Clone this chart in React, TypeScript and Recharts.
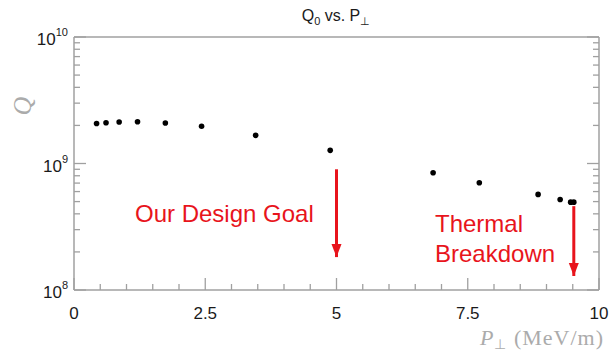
import React from 'react'
import { ScatterChart, Scatter, XAxis, YAxis, ReferenceLine } from 'recharts'

const pPerp = [0.43, 0.61, 0.86, 1.21, 1.74, 2.43, 3.46, 4.88, 6.84, 7.72, 8.84, 9.26, 9.46, 9.52]
const q0 = [2.07e9, 2.1e9, 2.13e9, 2.14e9, 2.09e9, 1.97e9, 1.67e9, 1.27e9, 8.45e8, 7.05e8, 5.7e8, 5.2e8, 4.95e8, 4.95e8]

// annotation arrows (x position, start Q, tip Q)
const arrowX = [5, 9.52]
const arrowFrom = [9.0e8, 4.6e8]
const arrowTo = [1.82e8, 1.29e8]

const xTicks = [0, 0.5, 1, 1.5, 2, 2.5, 3, 3.5, 4, 4.5, 5, 5.5, 6, 6.5, 7, 7.5, 8, 8.5, 9, 9.5, 10]
const xMajor = [0, 2.5, 5, 7.5, 10]
const yTicks = [
  1e8, 2e8, 3e8, 4e8, 5e8, 6e8, 7e8, 8e8, 9e8,
  1e9, 2e9, 3e9, 4e9, 5e9, 6e9, 7e9, 8e9, 9e9, 1e10,
]
const yMajor = [1e8, 1e9, 1e10]

const points = pPerp.map((x, i) => ({ x, y: q0[i] }))
const tips = arrowX.map((x, i) => ({ x, y: arrowTo[i] }))

const FRAME = '#a0a0a0'
const RED = '#e8141c'
const SANS = '"Liberation Sans", Arial, sans-serif'
const SERIF = '"Liberation Serif", "Times New Roman", serif'

const isMajorX = (v: number) => xMajor.includes(v)
const isMajorY = (v: number) => yMajor.some((m) => Math.abs(m - v) < 1)

const BottomTick = ({ x, y, payload }: any) => {
  const major = isMajorX(payload.value)
  return (
    <g>
      <line x1={x} x2={x} y1={y} y2={y - (major ? 12 : 6)} stroke={FRAME} strokeWidth={1.3} />
      {major && (
        <text x={x} y={y + 29} textAnchor="middle" fontFamily={SANS} fontSize={17} fill="#1a1a1a">
          {payload.value}
        </text>
      )}
    </g>
  )
}

const TopTick = ({ x, y, payload }: any) => {
  const major = isMajorX(payload.value)
  return <line x1={x} x2={x} y1={y} y2={y + (major ? 12 : 6)} stroke={FRAME} strokeWidth={1.3} />
}

const LeftTick = ({ x, y, payload }: any) => {
  const major = isMajorY(payload.value)
  const exp = Math.round(Math.log10(payload.value))
  return (
    <g>
      <line x1={x} x2={x + (major ? 12 : 6)} y1={y} y2={y} stroke={FRAME} strokeWidth={1.3} />
      {major && (
        <text x={x - 6} y={y + 8} textAnchor="end" fontFamily={SANS} fontSize={17} fill="#1a1a1a">
          10
          <tspan fontSize={11} dy={-9}>{exp}</tspan>
        </text>
      )}
    </g>
  )
}

const RightTick = ({ x, y, payload }: any) => {
  const major = isMajorY(payload.value)
  return <line x1={x} x2={x - (major ? 12 : 6)} y1={y} y2={y} stroke={FRAME} strokeWidth={1.3} />
}

const Dot = ({ cx, cy }: any) => <circle cx={cx} cy={cy} r={2.8} fill="#000" />

const ArrowHead = ({ cx, cy }: any) => (
  <polygon points={`${cx - 5},${cy - 13} ${cx + 5},${cy - 13} ${cx},${cy}`} fill={RED} />
)

export default function App() {
  return (
    <div style={{ position: 'absolute', left: 0, top: 0, width: 612, height: 354, background: '#fff' }}>
      <ScatterChart width={612} height={354} margin={{ top: 0, right: 0, bottom: 0, left: 0 }}>
        <XAxis
          xAxisId="b"
          dataKey="x"
          type="number"
          domain={[0, 10]}
          ticks={xTicks}
          interval={0}
          height={64}
          tickSize={0}
          tickMargin={0}
          tickLine={false}
          axisLine={{ stroke: FRAME, strokeWidth: 1.5 }}
          tick={<BottomTick />}
        />
        <XAxis
          xAxisId="t"
          orientation="top"
          type="number"
          domain={[0, 10]}
          ticks={xTicks}
          interval={0}
          height={37}
          tickSize={0}
          tickMargin={0}
          tickLine={false}
          axisLine={{ stroke: FRAME, strokeWidth: 1.5 }}
          tick={<TopTick />}
        />
        <YAxis
          yAxisId="l"
          dataKey="y"
          type="number"
          scale="log"
          domain={[1e8, 1e10]}
          allowDataOverflow
          ticks={yTicks}
          interval={0}
          width={74}
          tickSize={0}
          tickMargin={0}
          tickLine={false}
          axisLine={{ stroke: FRAME, strokeWidth: 1.5 }}
          tick={<LeftTick />}
        />
        <YAxis
          yAxisId="r"
          orientation="right"
          type="number"
          scale="log"
          domain={[1e8, 1e10]}
          allowDataOverflow
          ticks={yTicks}
          interval={0}
          width={13}
          tickSize={0}
          tickMargin={0}
          tickLine={false}
          axisLine={{ stroke: FRAME, strokeWidth: 1.5 }}
          tick={<RightTick />}
        />
        {arrowX.map((x, i) => (
          <ReferenceLine
            key={x}
            xAxisId="b"
            yAxisId="l"
            segment={[{ x, y: arrowFrom[i] }, { x, y: arrowTo[i] }]}
            stroke={RED}
            strokeWidth={3}
          />
        ))}
        <Scatter xAxisId="b" yAxisId="l" data={tips} shape={<ArrowHead />} isAnimationActive={false} />
        <Scatter xAxisId="b" yAxisId="l" data={points} shape={<Dot />} isAnimationActive={false} />
      </ScatterChart>
      <svg width={612} height={354} style={{ position: 'absolute', left: 0, top: 0, pointerEvents: 'none' }}>
        <text x={336} y={21} textAnchor="middle" fontFamily={SANS} fontSize={16} fill="#1a1a1a">
          Q<tspan fontSize={11} dy={4}>0</tspan>
          <tspan dy={-4}> vs. P</tspan>
          <tspan fontSize={11} dy={4}>⊥</tspan>
        </text>
        <text
          x={31}
          y={106}
          transform="rotate(-90 31 106)"
          textAnchor="middle"
          fontFamily={SERIF}
          fontStyle="italic"
          fontSize={26}
          fill="#ababab"
        >
          Q
        </text>
        <text x={604} y={345} textAnchor="end" fontFamily={SERIF} fontSize={22} fill="#ababab" letterSpacing={1}>
          <tspan fontStyle="italic">P</tspan>
          <tspan fontSize={14} dy={4}>⊥</tspan>
          <tspan dy={-4}> (MeV/m)</tspan>
        </text>
        <text x={135} y={222} fontFamily={SANS} fontSize={24} fill={RED}>
          Our Design Goal
        </text>
        <text x={435} y={232} fontFamily={SANS} fontSize={24} fill={RED}>
          Thermal
        </text>
        <text x={435} y={262} fontFamily={SANS} fontSize={24} fill={RED}>
          Breakdown
        </text>
      </svg>
    </div>
  )
}
